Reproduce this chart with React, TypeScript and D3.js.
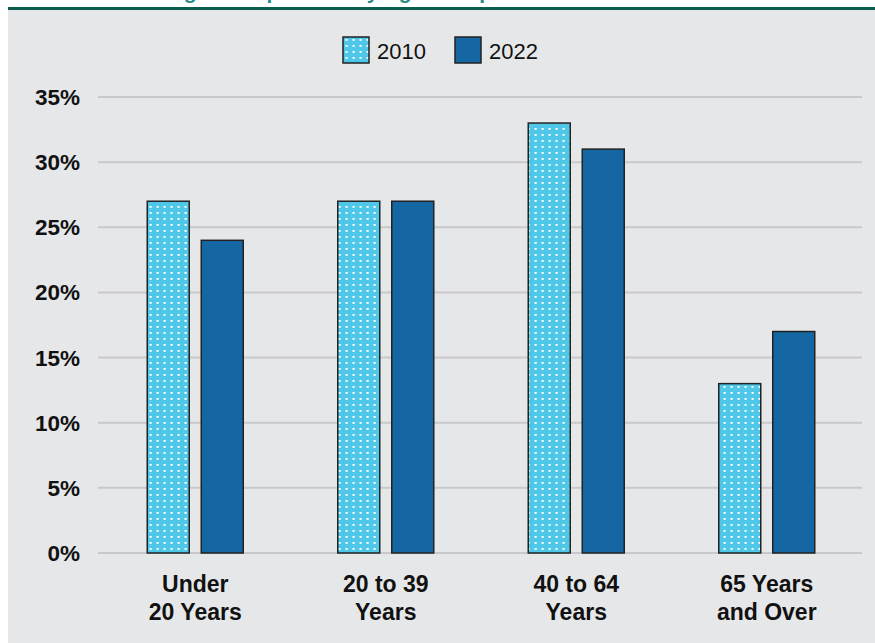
import React from "react";
import * as d3 from "d3";

const categories = [["Under", "20 Years"], ["20 to 39", "Years"], ["40 to 64", "Years"], ["65 Years", "and Over"]];
const series2010 = [27, 27, 33, 13];
const series2022 = [24, 27, 31, 17];
const seriesNames = ["2010", "2022"];
const yTicks = [0, 5, 10, 15, 20, 25, 30, 35];
const titleText = "Percentage of Population by Age Group";

const W = 875, H = 643;
const LIGHT = "#4fc7e9";
const DARK = "#1467a3";

export default function App() {
  React.useEffect(() => {
    document.body.style.margin = "0";
  }, []);
  const x0 = d3.scaleBand<number>().domain(d3.range(categories.length)).range([100, 862]);
  const x1 = d3.scaleBand<number>().domain([0, 1]).range([0, 96]).paddingInner(12 / 54);
  const y = d3.scaleLinear().domain([0, 35]).range([553, 97]);
  const font = "'Liberation Sans', Arial, sans-serif";
  const data = [series2010, series2022];
  return (
    <svg width={W} height={H} style={{ display: "block", fontFamily: font }}>
      <defs>
        <pattern id="dots" patternUnits="userSpaceOnUse" width={7} height={6} x={0} y={0}>
          <rect width={7} height={6} fill={LIGHT} />
          <rect x={2.5} y={2} width={2.2} height={1.8} fill="#ffffff" />
        </pattern>
      </defs>
      <rect x={0} y={0} width={W} height={H} fill="#ffffff" />
      <text x={95} y={-1} fill="#2a8a86" fontSize={21} fontWeight="bold">{titleText}</text>
      <rect x={8} y={10} width={W - 8} height={H - 10} fill="#e6e7e9" />
      <rect x={8} y={7} width={W - 8} height={3} fill="#0b5e4e" />
      {yTicks.map((t) => (
        <g key={t}>
          <line x1={98} x2={862} y1={y(t)} y2={y(t)} stroke="#c9c9cb" strokeWidth={2} />
          <text x={80} y={y(t) + 8} textAnchor="end" fontSize={22.5} fontWeight="bold" fill="#111">{t}%</text>
        </g>
      ))}
      {categories.map((c, i) => {
        const gx = x0(i)! + (x0.bandwidth() - 96) / 2;
        return (
          <g key={i}>
            {data.map((s, j) => (
              <rect key={j} x={gx + x1(j)!} y={y(s[i])} width={x1.bandwidth()} height={y(0) - y(s[i])}
                fill={j === 0 ? "url(#dots)" : DARK} stroke="#222" strokeWidth={1.5} />
            ))}
            {c.map((line, k) => (
              <text key={k} x={x0(i)! + x0.bandwidth() / 2} y={592 + k * 28} textAnchor="middle" fontSize={23} fontWeight="bold" fill="#111">{line}</text>
            ))}
          </g>
        );
      })}
      {seriesNames.map((n, j) => (
        <g key={n} transform={`translate(${j === 0 ? 343 : 455},37)`}>
          <rect x={0} y={0} width={26} height={26} fill={j === 0 ? "url(#dots)" : DARK} stroke="#222" strokeWidth={1.5} />
          <text x={34} y={22} fontSize={22} fill="#111">{n}</text>
        </g>
      ))}
    </svg>
  );
}
